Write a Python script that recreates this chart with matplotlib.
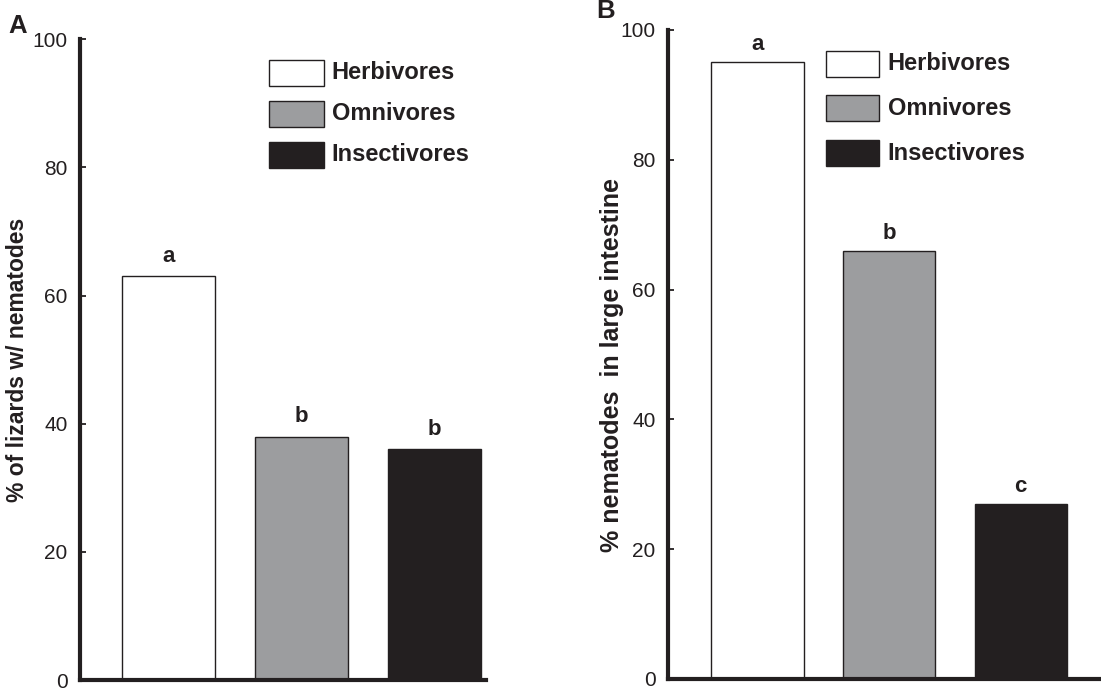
import matplotlib
matplotlib.use("Agg")
import matplotlib.pyplot as plt
from matplotlib.patches import Rectangle

# -----------------------------
# Data
# -----------------------------
groups = ["Herbivores", "Omnivores", "Insectivores"]
colors = ["#ffffff", "#9c9d9f", "#231f20"]

pct_infected = [63, 38, 36]
letters_infected = ["a", "b", "b"]

pct_large_intestine = [95, 66, 27]
letters_large_intestine = ["a", "b", "c"]

yticks = [0, 20, 40, 60, 80, 100]

INK = "#231f20"
plt.rcParams["font.family"] = ["Liberation Sans", "DejaVu Sans"]


def draw_panel(ax, values, letters, ylabel, xlim, letter_pad, legend_pos, ylabel_size):
    x = range(1, len(values) + 1)
    ax.bar(x, values, width=0.7, color=colors, edgecolor=INK, linewidth=1.0)

    for xi, v, lab in zip(x, values, letters):
        ax.annotate(lab, (xi, v), xytext=(0, letter_pad), textcoords="offset points",
                    ha="center", va="bottom", fontsize=16, fontweight="bold", color=INK)

    ax.set_xlim(*xlim)
    ax.set_ylim(0, 100)
    ax.set_yticks(yticks)
    ax.set_xticks([])
    ax.tick_params(axis="y", direction="in", length=4, width=1.3, color=INK,
                   pad=9, labelsize=15, labelcolor=INK)
    for side in ["top", "right"]:
        ax.spines[side].set_visible(False)
    for side in ["left", "bottom"]:
        ax.spines[side].set_linewidth(3)
        ax.spines[side].set_color(INK)
    ax.set_ylabel(ylabel, fontsize=ylabel_size, fontweight="bold", color=INK, va="center")

    # --- legend (boxes + labels) ---
    lx, ly, dy, w, h = legend_pos
    for i, (g, c) in enumerate(zip(groups, colors)):
        y0 = ly - i * dy
        ax.add_patch(Rectangle((lx, y0), w, h, transform=ax.transAxes,
                               facecolor=c, edgecolor=INK, linewidth=1.0, clip_on=False))
        ax.text(lx + w + 0.02, y0 + h / 2, g, transform=ax.transAxes,
                ha="left", va="center", fontsize=17, fontweight="bold", color=INK)


fig = plt.figure(figsize=(11.01, 6.92), dpi=100)

ax1 = fig.add_axes([0.0727, 0.0173, 0.3688, 0.926])
draw_panel(ax1, pct_infected, letters_infected, "% of lizards w/ nematodes",
           (0.335, 3.39), 7, (0.465, 0.927, 0.064, 0.135, 0.041), 16.5)
ax1.yaxis.set_label_coords(-0.153, 0.5)

ax2 = fig.add_axes([0.6067, 0.0188, 0.3933, 0.938])
draw_panel(ax2, pct_large_intestine, letters_large_intestine, "% nematodes  in large intestine",
           (0.32, 3.61), 5, (0.365, 0.928, 0.069, 0.122, 0.04), 18)
ax2.yaxis.set_label_coords(-0.129, 0.484)

fig.text(0.008, 0.952, "A", fontsize=18.5, fontweight="bold", color=INK)
fig.text(0.542, 0.974, "B", fontsize=18.5, fontweight="bold", color=INK)

fig.savefig("out.png", dpi=100)
